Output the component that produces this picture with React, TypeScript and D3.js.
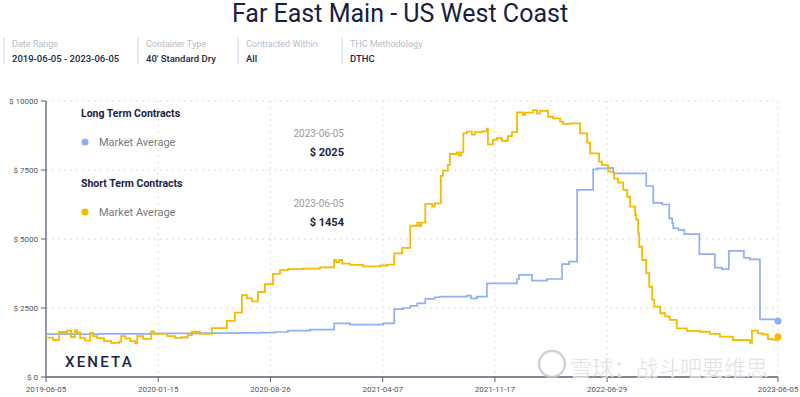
import React from "react";
import * as d3 from "d3";

const TITLE = "Far East Main  - US West Coast";
const FILTER_LABELS = ["Date Range", "Container Type", "Contracted Within", "THC Methodology"];
const FILTER_VALUES = ["2019-06-05 - 2023-06-05", "40' Standard Dry", "All", "DTHC"];
const X_TICKS = ["2019-06-05", "2020-01-15", "2020-08-26", "2021-04-07", "2021-11-17", "2022-06-29", "2023-06-05"];
const Y_TICKS = [0, 2500, 5000, 7500, 10000];

const LONG_DATES = [
  "2019-06-05", "2019-09-21", "2019-12-30", "2020-04-07", "2020-06-26", "2020-08-05", "2020-09-04", "2020-09-30",
  "2020-11-13", "2020-12-31", "2021-02-01", "2021-04-08", "2021-04-30", "2021-05-18", "2021-06-01", "2021-06-15",
  "2021-07-01", "2021-07-20", "2021-07-30", "2021-09-22", "2021-09-30", "2021-10-12", "2021-11-01", "2021-12-31",
  "2022-01-04", "2022-01-30", "2022-03-01", "2022-03-31", "2022-04-14", "2022-04-30", "2022-06-01", "2022-06-09",
  "2022-07-05", "2022-07-11", "2022-09-07", "2022-09-15", "2022-09-29", "2022-10-17", "2022-10-31", "2022-11-06",
  "2022-11-08", "2022-11-18", "2022-11-30", "2022-12-30", "2023-01-30", "2023-02-13", "2023-02-27", "2023-03-29",
  "2023-04-10", "2023-04-30", "2023-06-05",
];
const LONG_VALUES = [
  1550, 1560, 1580, 1590, 1600, 1610, 1630, 1680,
  1720, 1940, 1900, 1940, 2460, 2500, 2580, 2670,
  2830, 2890, 2910, 2950, 2850, 2910, 3390, 3550,
  3700, 3490, 3550, 4090, 4180, 6780, 7520, 7560,
  7580, 7380, 7380, 6920, 6310, 6250, 5750, 5570,
  5390, 5330, 5180, 4450, 3960, 3910, 4570, 4320,
  4260, 2090, 2025,
];

const SHORT_DATES = [
  "2019-06-05", "2019-06-19", "2019-07-01", "2019-07-17", "2019-07-25", "2019-08-02", "2019-08-06", "2019-08-12",
  "2019-08-22", "2019-09-01", "2019-09-07", "2019-09-15", "2019-09-29", "2019-10-13", "2019-10-29", "2019-11-02",
  "2019-11-10", "2019-11-20", "2019-11-30", "2019-12-04", "2019-12-16", "2020-01-01", "2020-01-07", "2020-02-02",
  "2020-02-17", "2020-03-02", "2020-03-14", "2020-03-22", "2020-04-07", "2020-05-01", "2020-05-31", "2020-06-16",
  "2020-06-30", "2020-07-10", "2020-07-20", "2020-08-01", "2020-08-15", "2020-08-31", "2020-09-14", "2020-09-30",
  "2020-10-30", "2020-12-03", "2020-12-31", "2021-01-04", "2021-01-10", "2021-01-16", "2021-02-01", "2021-02-27",
  "2021-04-02", "2021-04-16", "2021-04-30", "2021-05-16", "2021-06-01", "2021-06-15", "2021-06-19", "2021-06-23",
  "2021-07-01", "2021-07-15", "2021-07-20", "2021-08-01", "2021-08-05", "2021-08-15", "2021-08-19", "2021-09-02",
  "2021-09-06", "2021-09-10", "2021-09-15", "2021-09-22", "2021-10-02", "2021-10-08", "2021-10-22", "2021-11-01",
  "2021-11-03", "2021-11-13", "2021-11-21", "2021-12-01", "2021-12-13", "2021-12-21", "2021-12-31", "2022-01-12",
  "2022-01-16", "2022-02-01", "2022-02-09", "2022-02-15", "2022-03-01", "2022-03-03", "2022-03-13", "2022-03-27",
  "2022-04-02", "2022-04-16", "2022-05-06", "2022-05-20", "2022-05-26", "2022-06-13", "2022-06-19", "2022-07-01",
  "2022-07-13", "2022-07-21", "2022-07-31", "2022-08-08", "2022-08-14", "2022-08-24", "2022-08-26", "2022-08-30",
  "2022-09-01", "2022-09-07", "2022-09-15", "2022-09-21", "2022-09-27", "2022-10-01", "2022-10-13", "2022-10-23",
  "2022-11-01", "2022-11-15", "2022-12-05", "2022-12-31", "2023-01-20", "2023-02-09", "2023-03-07", "2023-04-10",
  "2023-04-14", "2023-04-26", "2023-05-06", "2023-05-16", "2023-05-26", "2023-06-05",
];
const SHORT_VALUES = [
  1430, 1340, 1630, 1680, 1450, 1700, 1620, 1410,
  1320, 1600, 1480, 1410, 1300, 1240, 1280, 1480,
  1400, 1300, 1220, 1480, 1380, 1650, 1560, 1480,
  1420, 1440, 1520, 1640, 1560, 1770, 2030, 2330,
  2970, 2850, 2740, 3080, 3360, 3740, 3870, 3910,
  3930, 3970, 4240, 4160, 4240, 4110, 4060, 4010,
  4040, 4070, 4480, 4680, 5480, 5590, 5470, 5590,
  6270, 6170, 6290, 7290, 7480, 7680, 8080, 8140,
  8020, 8140, 8830, 8890, 8780, 8870, 8900, 9000,
  8430, 8590, 8650, 8560, 8730, 8870, 9590, 9490,
  9580, 9670, 9550, 9640, 9650, 9430, 9370, 9250,
  9170, 9190, 8830, 8490, 8100, 7800, 7680, 7440,
  7190, 7040, 6780, 6530, 6170, 5870, 5700, 5200,
  4720, 4240, 3760, 3270, 2800, 2550, 2310, 2200,
  2070, 1760, 1670, 1640, 1560, 1460, 1340, 1240,
  1680, 1580, 1540, 1370, 1350, 1454,
];

const LEGEND = [
  { group: "Long Term Contracts", label: "Market Average", date: "2023-06-05", value: "$ 2025", color: "#8db0f5" },
  { group: "Short Term Contracts", label: "Market Average", date: "2023-06-05", value: "$ 1454", color: "#f4bb00" },
];
const WATERMARK = "雪球：战斗吧要维思";

const W = 800, H = 397;
const M = { left: 46, right: 22, top: 101, bottom: 20 };
const FONT = "Roboto, 'Noto Sans', Arial, sans-serif";

export default function App() {
  const parse = d3.timeParse("%Y-%m-%d");
  const x = d3.scaleTime()
    .domain([parse(X_TICKS[0])!, parse(X_TICKS[X_TICKS.length - 1])!])
    .range([M.left, W - M.right]);
  const y = d3.scaleLinear().domain([0, 10000]).range([H - M.bottom, M.top]);

  const longData = LONG_DATES.map((d, i) => ({ d: parse(d)!, v: LONG_VALUES[i] }));
  const shortData = SHORT_DATES.map((d, i) => ({ d: parse(d)!, v: SHORT_VALUES[i] }));
  const line = d3.line<{ d: Date; v: number }>().x((p) => x(p.d)).y((p) => y(p.v)).curve(d3.curveStepAfter);

  const y0 = y(0);
  const xEnd = x.range()[1];
  const filterX = [3, 137, 237, 341];

  return (
    <div style={{ position: "fixed", left: 0, top: 0, width: W, height: H, background: "#fff" }}>
      <svg width={W} height={H} style={{ display: "block", fontFamily: FONT }}>
        <rect width={W} height={H} fill="#fff" />
        <text x={400} y={22} textAnchor="middle" fontSize={25} fill="#18203f" fontFamily={FONT}>
          {TITLE}
        </text>

        {FILTER_LABELS.map((lab, i) => (
          <g key={lab}>
            <rect x={filterX[i]} y={37} width={2} height={27} fill="#e2ebf8" />
            <text x={filterX[i] + 9} y={47} fontSize={9} fill="#b8bcc4">{lab}</text>
            <text x={filterX[i] + 9} y={62} fontSize={9.5} fontWeight={500} fill="#23283a">{FILTER_VALUES[i]}</text>
          </g>
        ))}

        {/* grid */}
        {Y_TICKS.filter((t) => t > 0).map((t) => (
          <line key={"gy" + t} x1={M.left} x2={xEnd} y1={y(t)} y2={y(t)} stroke="#dcdcdc" strokeDasharray="2,4" />
        ))}
        {X_TICKS.slice(1).map((t) => (
          <line key={"gx" + t} x1={x(parse(t)!)} x2={x(parse(t)!)} y1={M.top} y2={y0} stroke="#dcdcdc" strokeDasharray="2,4" />
        ))}

        {/* axes */}
        <line x1={M.left} x2={M.left} y1={M.top} y2={y0} stroke="#5a5e73" strokeWidth={1.3} />
        <line x1={M.left} x2={xEnd} y1={y0} y2={y0} stroke="#5a5e73" strokeWidth={1.3} />
        {Y_TICKS.map((t) => (
          <g key={"yt" + t}>
            <line x1={M.left - 5} x2={M.left} y1={y(t)} y2={y(t)} stroke="#5a5e73" />
            <text x={M.left - 8} y={y(t) + 3} textAnchor="end" fontSize={8} fill="#555">{"$ " + t}</text>
          </g>
        ))}
        {X_TICKS.map((t) => (
          <g key={"xt" + t}>
            <line x1={x(parse(t)!)} x2={x(parse(t)!)} y1={y0} y2={y0 + 5} stroke="#5a5e73" />
            <text x={x(parse(t)!)} y={y0 + 15} textAnchor="middle" fontSize={8} fill="#555">{t}</text>
          </g>
        ))}

        {/* lines */}
        <path d={line(longData)!} fill="none" stroke={LEGEND[0].color} strokeWidth={1.7} />
        <path d={line(shortData)!} fill="none" stroke={LEGEND[1].color} strokeWidth={1.8} />
        <circle cx={x(longData[longData.length - 1].d)} cy={y(longData[longData.length - 1].v)} r={3.5} fill={LEGEND[0].color} />
        <circle cx={x(shortData[shortData.length - 1].d)} cy={y(shortData[shortData.length - 1].v)} r={3.5} fill={LEGEND[1].color} />

        {/* legend */}
        {LEGEND.map((l, i) => {
          const oy = i * 70;
          return (
            <g key={l.group}>
              <text x={81} y={117 + oy} fontSize={10.5} fontWeight={700} fill="#1c2445">{l.group}</text>
              <circle cx={85} cy={142 + oy} r={3.5} fill={l.color} />
              <text x={99} y={146 + oy} fontSize={11} fill="#7a7a7a">{l.label}</text>
              <text x={344} y={137 + oy} textAnchor="end" fontSize={10} fill="#9a9a9a">{l.date}</text>
              <text x={344} y={156 + oy} textAnchor="end" fontSize={11} fontWeight={700} fill="#1c2445">{l.value}</text>
            </g>
          );
        })}

        <text x={65} y={367} fontSize={15} fontWeight={500} letterSpacing={2.2} fill="#1c2445">XENETA</text>

        {/* watermark */}
        <g opacity={0.8}>
          <circle cx={552} cy={364} r={13} fill="none" stroke="#c8c8c8" strokeWidth={2.5} />
          <text x={570} y={376} fontSize={22} fill="#d0d0d0" stroke="#ffffff" strokeWidth={0.6}
            fontFamily="'Noto Sans CJK SC', sans-serif">{WATERMARK}</text>
        </g>
      </svg>
    </div>
  );
}
